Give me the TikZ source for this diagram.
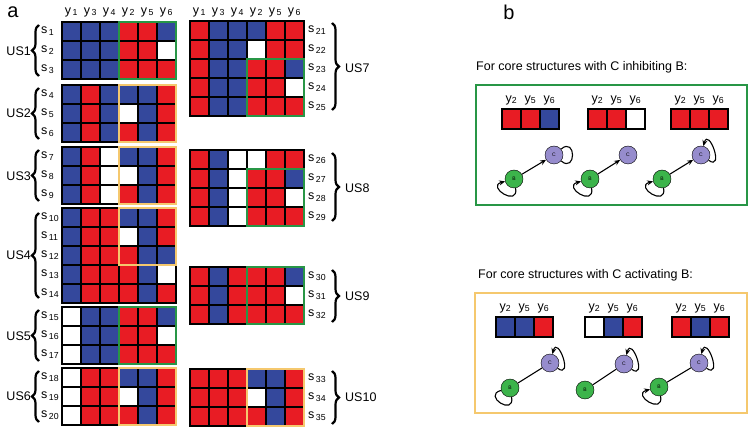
\documentclass[tikz,border=0pt]{standalone}
\usepackage{fontspec}
\setmainfont{Liberation Sans}
\usepackage{tikz}
\usetikzlibrary{arrows.meta,decorations.pathreplacing}
\definecolor{cR}{RGB}{232,28,36}
\definecolor{cB}{RGB}{52,72,156}
\definecolor{cW}{RGB}{255,255,255}
\definecolor{usgreen}{RGB}{40,150,70}
\definecolor{usyellow}{RGB}{245,200,110}
\definecolor{nodegreen}{RGB}{60,180,75}
\definecolor{nodepurple}{RGB}{150,140,205}
\tikzset{
	cell/.style={draw=black, line width=1.4pt},
	gframe/.style={draw=usgreen, line width=2.5pt},
	yframe/.style={draw=usyellow, line width=2.5pt},
	brace/.style={decorate, decoration={brace, amplitude=7pt}, line width=2.2pt},
	slab/.style={anchor=west, inner sep=0pt, font=\fontsize{12.5}{14}\selectfont},
	colhead/.style={inner sep=0pt, font=\fontsize{12.5}{14}\selectfont},
	uslab/.style={inner sep=0pt, font=\fontsize{12.5}{14}\selectfont},
	bnode/.style={circle, draw=black, thin, fill=nodegreen, minimum size=18pt, inner sep=0pt, font=\fontsize{5}{6}\selectfont},
	cnode/.style={bnode, fill=nodepurple},
	edge/.style={line width=1.1pt, -{Stealth[length=6pt,width=5pt]}},
	loopar/.style={line width=1.1pt, -{Stealth[length=6pt,width=5pt]}},
	loopline/.style={line width=1.1pt},
	>=Stealth
}
% one block of rows: x, y, first s number, x of the s labels, rows
\newcommand{\usblock}[5]{%
	\foreach \row [count=\i from 0] in {#5} {
		\foreach \c [count=\j from 0] in \row
			\filldraw[cell, fill=c\c] ({#1+19*\j},{#2+19*\i}) rectangle ++(19,19);
		\pgfmathtruncatemacro{\k}{#3+\i}
		\node[slab] (s\k) at ({#4},{#2+19*\i+9.5}) {s\textsubscript{\,\k}};
	}
}
% small 3-cell grid with its column heads: name, x, y, colours
\newcommand{\minigrid}[4]{%
	\foreach \c [count=\j from 0] in {#4}
		\filldraw[cell, fill=c\c] ({#2+19*\j},{#3}) rectangle ++(19,20);
	\foreach \h [count=\j from 0] in {2,5,6}
		\node[colhead] (#1h\h) at ({#2+9.5+19*\j},{#3-9}) {y\textsubscript{\h}};
}

\begin{document}
\begin{tikzpicture}[x=1pt, y=-1pt]
	\useasboundingbox (0,0) rectangle (750,430);
	
	% panel labels
	\node[font=\fontsize{20}{22}\selectfont] (pa) at (13,12) {a};
	\node[font=\fontsize{20}{22}\selectfont] (pb) at (509,12) {b};
	
	% column heads
	\foreach \h [count=\j from 0] in {1,3,4,2,5,6} {
		\node[colhead] (lh\j) at ({71.5+19*\j},12) {y\textsubscript{\,\h}};
		\node[colhead] (rh\j) at ({199.5+19*\j},12) {y\textsubscript{\,\h}};
	}
	
	% left column of blocks
	\usblock{62}{22}{1}{41}{{B,B,B,R,R,B},{B,B,B,R,R,W},{B,B,B,R,R,R}}
	\usblock{62}{85}{4}{41}{{B,R,B,B,B,R},{B,R,B,W,B,R},{B,R,B,R,B,R}}
	\usblock{62}{147}{7}{41}{{B,R,W,B,B,R},{B,R,W,W,B,R},{B,R,W,R,B,R}}
	\usblock{62}{208}{10}{41}{{B,R,R,B,B,R},{B,R,R,W,B,R},{B,R,R,R,B,B},{B,R,R,R,B,W},{B,R,R,R,B,R}}
	\usblock{62}{307}{15}{41}{{W,B,B,R,R,B},{W,B,B,R,R,W},{W,B,B,R,R,R}}
	\usblock{62}{368}{18}{41}{{W,R,R,B,B,R},{W,R,R,W,B,R},{W,R,R,R,B,R}}
	
	% right column of blocks
	\usblock{190}{21}{21}{308}{{R,B,B,B,R,R},{R,B,B,W,R,R},{R,B,B,R,R,B},{R,B,B,R,R,W},{R,B,B,R,R,R}}
	\usblock{190}{150}{26}{308}{{R,B,W,W,R,R},{R,B,W,R,R,B},{R,B,W,R,R,W},{R,B,W,R,R,R}}
	\usblock{190}{267}{30}{308}{{R,B,R,R,R,B},{R,B,R,R,R,W},{R,B,R,R,R,R}}
	\usblock{190}{369}{33}{308}{{R,R,R,B,B,R},{R,R,R,W,B,R},{R,R,R,R,B,R}}
	
	% highlighted core columns
	\draw[gframe] (119,22) rectangle (176,79);
	\draw[yframe] (119,85) rectangle (176,142);
	\draw[yframe] (119,147) rectangle (176,204);
	\draw[yframe] (119,208) rectangle (176,265);
	\draw[gframe] (119,307) rectangle (176,364);
	\draw[yframe] (119,368) rectangle (176,425);
	\draw[gframe] (247,59) rectangle (304,116);
	\draw[gframe] (247,169) rectangle (304,226);
	\draw[gframe] (247,267) rectangle (304,324);
	\draw[yframe] (247,369) rectangle (304,426);
	
	% braces and set names
	\draw[brace] (39,76) -- (39,25);
	\node[uslab, anchor=east] (us1) at (31,51) {US1};
	\draw[brace] (39,139) -- (39,88);
	\node[uslab, anchor=east] (us2) at (31,113) {US2};
	\draw[brace] (39,201) -- (39,150);
	\node[uslab, anchor=east] (us3) at (31,176) {US3};
	\draw[brace] (39,298) -- (39,213);
	\node[uslab, anchor=east] (us4) at (31,255) {US4};
	\draw[brace] (39,361) -- (39,310);
	\node[uslab, anchor=east] (us5) at (31,336) {US5};
	\draw[brace] (39,422) -- (39,371);
	\node[uslab, anchor=east] (us6) at (31,396) {US6};
	
	\draw[brace] (332,23) -- (332,110);
	\node[uslab, anchor=west] (us7) at (345,68) {US7};
	\draw[brace] (332,153) -- (332,221);
	\node[uslab, anchor=west] (us8) at (345,188) {US8};
	\draw[brace] (332,270) -- (332,322);
	\node[uslab, anchor=west] (us9) at (345,296) {US9};
	\draw[brace] (332,371) -- (332,424);
	\node[uslab, anchor=west] (us10) at (345,397) {US10};
	
	% panel b: C inhibiting B
	\node[anchor=west, inner sep=0pt, font=\fontsize{12.5}{14}\selectfont] (tinh) at (476,67) {For core structures with C inhibiting B:};
	\draw[usgreen, line width=2pt] (476,85) rectangle (747,205);
	\minigrid{ga}{502}{109}{R,R,B}
	\minigrid{gb}{588}{109}{R,R,W}
	\minigrid{gc}{671}{109}{R,R,R}
	
	\node[bnode] (gb1) at (514,179) {B};
	\node[cnode] (gc1) at (554,155) {C};
	\draw[edge] (gb1) -- (gc1);
	\draw[loopar] (gb1.-80) .. controls +(-80:20pt) and +(195:20pt) .. (gb1.195);
	\draw[loopline] (gc1.40) .. controls +(40:20pt) and +(-40:20pt) .. (gc1.-40);
	
	\node[bnode] (gb2) at (590,179) {B};
	\node[cnode] (gc2) at (628,155) {C};
	\draw[edge] (gb2) -- (gc2);
	\draw[loopar] (gb2.-80) .. controls +(-80:20pt) and +(195:20pt) .. (gb2.195);
	
	\node[bnode] (gb3) at (662,179) {B};
	\node[cnode] (gc3) at (701,155) {C};
	\draw[edge] (gb3) -- (gc3);
	\draw[loopar] (gb3.-80) .. controls +(-80:20pt) and +(195:20pt) .. (gb3.195);
	\draw[loopar] (gc3.-35) .. controls +(-35:20pt) and +(75:20pt) .. (gc3.75);
	
	% panel b: C activating B
	\node[anchor=west, inner sep=0pt, font=\fontsize{12.5}{14}\selectfont] (tact) at (478,275) {For core structures with C activating B:};
	\draw[usyellow, line width=2pt] (475,293) rectangle (747,413);
	\minigrid{ya}{496}{317}{B,B,R}
	\minigrid{yb}{585}{317}{W,B,R}
	\minigrid{yc}{672}{317}{R,B,R}
	
	\node[bnode] (yb1) at (510,388) {B};
	\node[cnode] (yc1) at (550,363) {C};
	\draw[loopline] (yb1) -- (yc1);
	\draw[loopline] (yb1.-80) .. controls +(-80:20pt) and +(195:20pt) .. (yb1.195);
	\draw[loopar] (yc1.-35) .. controls +(-35:20pt) and +(75:20pt) .. (yc1.75);
	
	\node[bnode] (yb2) at (585,390) {B};
	\node[cnode] (yc2) at (624,364) {C};
	\draw[loopline] (yb2) -- (yc2);
	\draw[loopar] (yc2.-35) .. controls +(-35:20pt) and +(75:20pt) .. (yc2.75);
	
	\node[bnode] (yb3) at (659,387) {B};
	\node[cnode] (yc3) at (699,363) {C};
	\draw[loopline] (yb3) -- (yc3);
	\draw[loopar] (yb3.-80) .. controls +(-80:20pt) and +(195:20pt) .. (yb3.195);
	\draw[loopar] (yc3.-35) .. controls +(-35:20pt) and +(75:20pt) .. (yc3.75);
\end{tikzpicture}
\end{document}
